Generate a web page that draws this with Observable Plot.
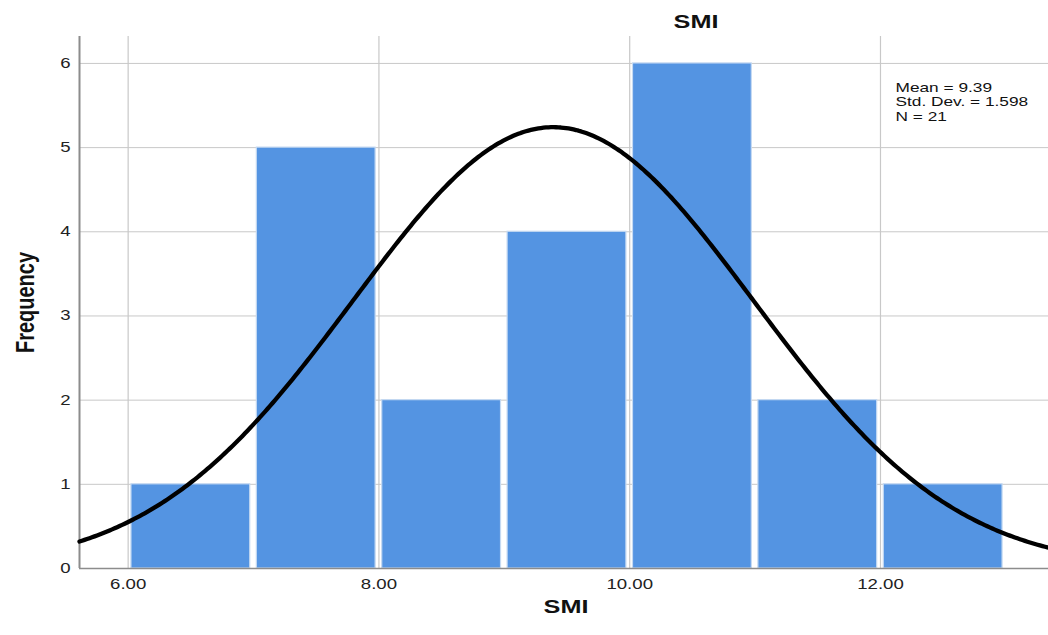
<!DOCTYPE html>
<html>
<head>
<meta charset="utf-8">
<script src="https://cdn.jsdelivr.net/npm/d3@7"></script>
<script src="https://cdn.jsdelivr.net/npm/@observablehq/plot@0.6"></script>
<style>
  html, body { margin: 0; padding: 0; background: #fff; }
</style>
</head>
<body>
<div id="chart"></div>
<script>
// Histogram of SMI (bin width 1)
const binStart = [6, 7, 8, 9, 10, 11, 12];
const binEnd   = [7, 8, 9, 10, 11, 12, 13];
const counts   = [1, 5, 2, 4, 6, 2, 1];

// Summary statistics shown in the legend box
const mean = 9.39;
const stdDev = 1.598;
const n = 21;

const xTicks = [6, 8, 10, 12];
const yTicks = [0, 1, 2, 3, 4, 5, 6];
const xDomain = [5.612, 13.34];
const yDomain = [0, 6.32];

const width = 1048;
const height = 635;
// SPSS exports set their lettering wide; each label is widened about its own anchor.
const textStretch = 1.33;

const bins = binStart.map((s, i) => ({start: s, end: binEnd[i], count: counts[i]}));

// Fitted normal curve scaled to counts: N * binWidth * pdf(x)
const binWidth = 1;
const curve = d3.range(xDomain[0], xDomain[1] + 0.001, 0.02).map(x => ({
  x,
  y: n * binWidth * Math.exp(-0.5 * ((x - mean) / stdDev) ** 2) / (stdDev * Math.sqrt(2 * Math.PI))
}));

const fontFamily = "'Liberation Sans', Arial, Helvetica, sans-serif";

const chart = Plot.plot({
  width,
  height,
  marginLeft: 79,
  marginRight: 0,
  marginTop: 36,
  marginBottom: 67,
  x: {domain: xDomain},
  y: {domain: yDomain},
  style: {fontFamily, background: "#fff", color: "#222"},
  marks: [
    Plot.gridY(yTicks.filter(d => d > 0), {stroke: "#c8c8c8", strokeOpacity: 1, strokeWidth: 1}),
    Plot.gridX(xTicks, {stroke: "#c8c8c8", strokeOpacity: 1, strokeWidth: 1.2}),
    Plot.rectY(bins, {
      x1: "start", x2: "end", y: "count",
      fill: "#5494e2", stroke: "#c4d9f2", strokeWidth: 1.2,
      insetLeft: 3.3, insetRight: 3.3
    }),
    Plot.ruleY([0], {stroke: "#8c8c8c", strokeWidth: 1.5}),
    Plot.ruleX([xDomain[0]], {stroke: "#8c8c8c", strokeWidth: 2}),
    Plot.line(curve, {x: "x", y: "y", stroke: "#000", strokeWidth: 4.3, curve: "linear"}),
    Plot.axisY(yTicks, {tickSize: 0, tickPadding: 9, label: null, fontSize: 14, tickFormat: "d"}),
    Plot.axisX(xTicks, {tickSize: 0, tickPadding: 11, label: null, fontSize: 14, tickFormat: d => d.toFixed(2)}),
    // Legend box with the summary statistics
    Plot.text([`Mean = ${mean.toFixed(2)}\nStd. Dev. = ${stdDev.toFixed(3)}\nN = ${n}`], {
      frameAnchor: "top-right", textAnchor: "start", lineAnchor: "top",
      dx: -(width - 895), dy: 45, fontSize: 13, lineHeight: 1.11, fill: "#111"
    }),
    // Title
    Plot.text(["SMI"], {
      frameAnchor: "top", lineAnchor: "bottom", dx: 132, dy: -9,
      fontSize: 19, fontWeight: "bold", fill: "#111"
    }),
    // X axis title
    Plot.text(["SMI"], {
      frameAnchor: "bottom", lineAnchor: "bottom", dx: 2, dy: 44,
      fontSize: 19, fontWeight: "bold", fill: "#111"
    }),
    // Y axis title
    Plot.text(["Frequency"], {
      frameAnchor: "left", textAnchor: "middle", lineAnchor: "bottom", rotate: -90,
      dx: 33 - 79, dy: 0,
      fontSize: 20, fontWeight: "bold", fill: "#111"
    })
  ]
});

// Widen every label horizontally about its anchor point.
chart.querySelectorAll("text").forEach(t => {
  const tr = t.getAttribute("transform");
  const scale = ` scale(${textStretch},1)`;
  if (tr && /^\s*translate\([^)]*\)/.test(tr)) {
    t.setAttribute("transform", tr.replace(/^\s*(translate\([^)]*\))/, `$1${scale}`));
  } else {
    const x = +t.getAttribute("x") || 0;
    const y = +t.getAttribute("y") || 0;
    t.removeAttribute("x");
    t.removeAttribute("y");
    t.setAttribute("transform", `translate(${x},${y})${scale}${tr ? " " + tr : ""}`);
  }
});

document.getElementById("chart").append(chart);
</script>
</body>
</html>
